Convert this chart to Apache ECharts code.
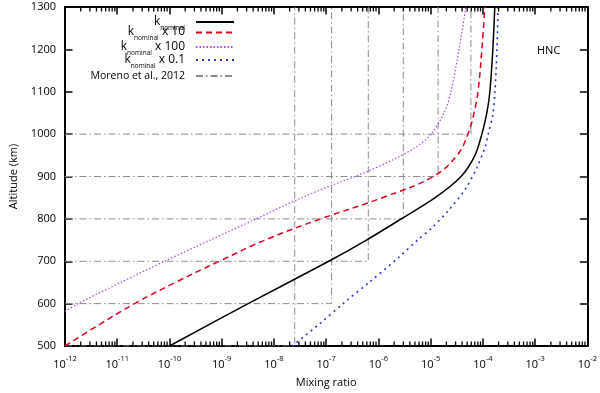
<!DOCTYPE html>
<html><head><meta charset="utf-8">
<script src="https://cdn.jsdelivr.net/npm/echarts@6/dist/echarts.min.js"></script>
<style>html,body{margin:0;padding:0;background:#fff}#c{width:600px;height:393px}</style>
</head><body><div id="c"></div>
<script>
// ---- data ----
const nomAlt = [500, 600, 700, 750, 800, 850, 900, 950, 1000, 1050, 1100, 1200, 1300];
const nomX   = [1e-10, 3.2e-9, 1.12e-7, 5.9e-7, 2.74e-6, 1.22e-5, 3.81e-5, 7.05e-5, 9.57e-5, 1.19e-4, 1.36e-4, 1.55e-4, 1.69e-4];

const x10Alt = [500, 550, 600, 650, 700, 750, 800, 850, 900, 950, 1000, 1050, 1100, 1200, 1300];
const x10X   = [1e-12, 4.45e-12, 2.15e-11, 1.3e-10, 8.95e-10, 6.75e-9, 7.85e-8, 1.19e-6, 1.12e-5, 3.2e-5, 5.18e-5, 6.75e-5, 8.04e-5, 9.57e-5, 1.09e-4];

const x100Alt = [581, 600, 650, 700, 750, 800, 850, 880, 910, 940, 970, 1000, 1050, 1100, 1200, 1300];
const x100X   = [1e-12, 1.77e-12, 1.17e-11, 8.04e-11, 6.04e-10, 4.54e-9, 3.41e-8, 1.33e-7, 5.65e-7, 1.93e-6, 5.3e-6, 1.02e-5, 1.81e-5, 2.45e-5, 3.49e-5, 4.74e-5];

const x01Alt = [500, 550, 604, 650, 708, 750, 777, 820, 870, 920, 969, 1000, 1046, 1100, 1200, 1300];
const x01X   = [2.2e-8, 7.1e-8, 2.3e-7, 6.6e-7, 2.4e-6, 5.6e-6, 1.02e-5, 2.2e-5, 4.6e-5, 7.6e-5, 1.1e-4, 1.26e-4, 1.55e-4, 1.7e-4, 1.86e-4, 1.95e-4];

// Moreno et al., 2012 step constraints: mixing ratio above each altitude
const morenoAlt = [500, 600, 700, 800, 900, 1000];
const morenoX   = [2.5e-8, 1.27e-7, 6.4e-7, 3.0e-6, 1.39e-5, 5.9e-5];

// axis tick values
const decadeExp = [-12, -11, -10, -9, -8, -7, -6, -5, -4, -3];
const minorMant = [2, 3, 4, 5, 6, 7, 8, 9];

// ---- build ----
const FONT = 'Open Sans';
const pairs = (xs, ys) => xs.map((v, i) => [v, ys[i]]);
const seriesNames = ['k_nominal', 'k_nominal x 10', 'k_nominal x 100', 'k_nominal x 0.1', 'Moreno et al., 2012'];

const series = [
  {name: seriesNames[0], type: 'line', data: pairs(nomX, nomAlt), smooth: 0.3, symbol: 'none',
   lineStyle: {color: '#000', width: 1.5, type: 'solid'}, itemStyle: {color: '#000'}, z: 5},
  {name: seriesNames[1], type: 'line', data: pairs(x10X, x10Alt), smooth: 0.4, symbol: 'none',
   lineStyle: {color: '#e3001b', width: 1.5, type: [6, 4]}, itemStyle: {color: '#e3001b'}, z: 5},
  {name: seriesNames[2], type: 'line', data: pairs(x100X, x100Alt), smooth: 0.3, symbol: 'none',
   lineStyle: {color: '#a64be6', width: 1.2, type: [1.5, 2]}, itemStyle: {color: '#a64be6'}, z: 5},
  {name: seriesNames[3], type: 'line', data: pairs(x01X, x01Alt), smooth: 0.3, symbol: 'none',
   lineStyle: {color: '#2b35d0', width: 1.6, type: [2, 4]}, itemStyle: {color: '#2b35d0'}, z: 5}
];
morenoAlt.forEach((a, i) => {
  series.push({name: seriesNames[4], type: 'line', symbol: 'none', silent: true,
    data: [[1e-12, a], [morenoX[i], a], [morenoX[i], 1300]],
    lineStyle: {color: '#8c8c8c', width: 1, type: [7, 3, 1.5, 3]}, itemStyle: {color: '#8c8c8c'}, z: 2});
});

// minor log ticks (2..9 x 10^n) on bottom and top axes, placed through the x axis scale
const minorTickVals = [];
decadeExp.forEach(e => minorMant.forEach(m => minorTickVals.push([m * Math.pow(10, e), 500])));
series.push({
  type: 'custom', coordinateSystem: 'cartesian2d', xAxisIndex: 0, yAxisIndex: 0,
  silent: true, z: 10, clip: false, data: minorTickVals,
  encode: {x: 0, y: 1},
  renderItem: function (params, api) {
    const b = api.coord([api.value(0), 500]);
    const t = api.coord([api.value(0), 1300]);
    const x = b[0];
    const st = {stroke: '#000', lineWidth: 1.3};
    return {type: 'group', children: [
      {type: 'line', shape: {x1: x, y1: b[1], x2: x, y2: b[1] - 4.5}, style: st},
      {type: 'line', shape: {x1: x, y1: t[1], x2: x, y2: t[1] + 4.5}, style: st}
    ]};
  }
});

const legendCenters = [21, 34.5, 49, 62, 75];
const legendTopAdj = [3, 0, 0, 0, 3];
const legendRich = {
  k: {fontSize: 12, fontFamily: FONT, color: '#000', verticalAlign: 'top', lineHeight: 13},
  s: {fontSize: 6.5, fontFamily: FONT, color: '#000', verticalAlign: 'top', padding: [9, 0, 0, 0], lineHeight: 8},
  t: {fontSize: 12, fontFamily: FONT, color: '#000', verticalAlign: 'top', lineHeight: 13}
};
const legends = seriesNames.map((n, i) => ({
  data: [n], right: 365, top: legendCenters[i] - (i < 4 ? 8.5 : 7.5) + legendTopAdj[i], orient: 'vertical', align: 'right',
  padding: 0, itemWidth: 38, itemHeight: 12, selectedMode: false,
  itemStyle: {opacity: 0},
  textStyle: {fontFamily: FONT, fontSize: 10.5, color: '#000', padding: [0, 6, 0, 0], rich: legendRich},
  formatter: name => name.startsWith('k_nominal') ? '{k|k}{s|nominal}{t|' + name.slice(9) + '}' : name
}));

const axisLineStyle = {color: '#000', width: 2};
const xCommon = {
  type: 'log', logBase: 10, min: 1e-12, max: 1e-2, gridIndex: 0,
  axisLine: {show: true, onZero: false, lineStyle: axisLineStyle},
  axisTick: {show: true, inside: true, length: 7.5, lineStyle: {color: '#000', width: 1.5}},
  splitLine: {show: false}
};
const yCommon = {
  type: 'value', min: 500, max: 1300, interval: 100,
  axisLine: {show: true, onZero: false, lineStyle: axisLineStyle},
  axisTick: {show: true, inside: true, length: 7.5, lineStyle: {color: '#000', width: 1.5}},
  splitLine: {show: false}
};

const option = {
  animation: false,
  backgroundColor: '#fff',
  textStyle: {fontFamily: FONT},
  title: {text: 'HNC', left: 537, top: 45, padding: 0, textStyle: {fontFamily: FONT, fontSize: 11, fontWeight: 'normal', color: '#000'}},
  legend: legends,
  grid: {left: 65, right: 10, top: 7, bottom: 40},
  xAxis: [
    Object.assign({}, xCommon, {position: 'bottom', name: 'Mixing ratio', nameLocation: 'middle', nameGap: 31,
      nameTextStyle: {fontFamily: FONT, fontSize: 11, color: '#000'},
      axisLabel: {margin: 9, color: '#000', fontFamily: FONT,
        formatter: v => '{b|10}{s|' + Math.round(Math.log10(v)) + '}',
        rich: {b: {fontSize: 11, fontFamily: FONT, color: '#000', verticalAlign: 'top', padding: [4, 0, 0, 0], lineHeight: 12},
               s: {fontSize: 7.5, fontFamily: FONT, color: '#000', verticalAlign: 'top', lineHeight: 9}}}}),
    Object.assign({}, xCommon, {position: 'top', axisLabel: {show: false}})
  ],
  yAxis: [
    Object.assign({}, yCommon, {position: 'left', name: 'Altitude (km)', nameLocation: 'middle', nameGap: 46,
      nameTextStyle: {fontFamily: FONT, fontSize: 11, color: '#000'},
      axisLabel: {margin: 9, color: '#000', fontFamily: FONT, fontSize: 11, formatter: v => String(v)}}),
    Object.assign({}, yCommon, {position: 'right', axisLabel: {show: false}})
  ],
  series: series
};
const chart = echarts.init(document.getElementById('c'), null, {renderer: 'canvas'});
chart.setOption(option);
</script>
</body></html>
